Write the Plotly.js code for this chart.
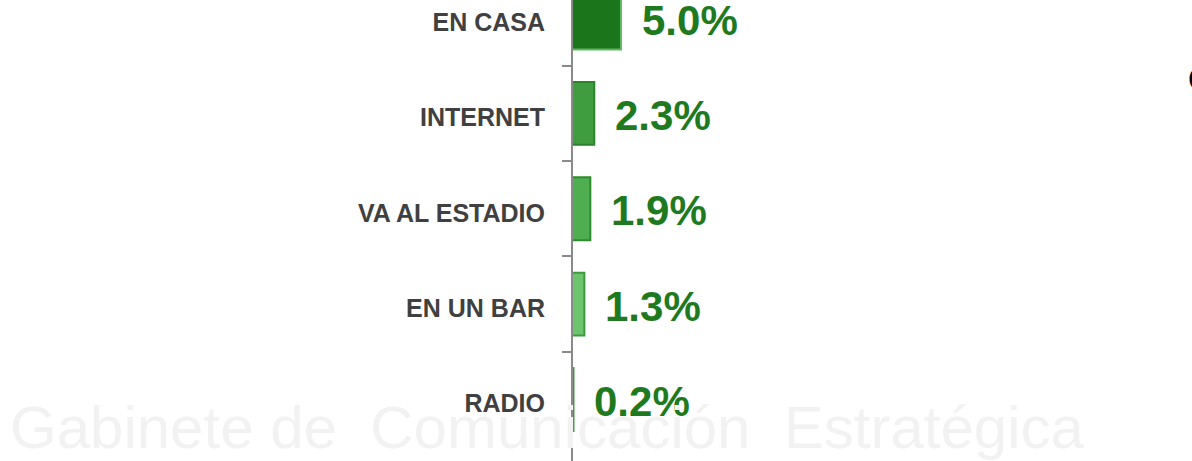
<!DOCTYPE html>
<html>
<head>
<meta charset="utf-8">
<script src="https://cdn.plot.ly/plotly-3.0.1.min.js"></script>
<style>html,body{margin:0;padding:0;background:#fff;}#chart{width:1192px;height:461px;}</style>
</head>
<body>
<div id="chart"></div>
<script>
// Data
var categories = ["EN CASA", "INTERNET", "VA AL ESTADIO", "EN UN BAR", "RADIO"];
var values = [5.0, 2.3, 1.9, 1.3, 0.2];
var valueLabels = ["5.0%", "2.3%", "1.9%", "1.3%", "0.2%"];

// Styles
var barFill = ["#1b761b", "#3f9d3f", "#4fae4f", "#6cc46c", "#6cc46c"];
var barLine = ["#62b862", "#2b842b", "#2f8a2f", "#3f9a3f", "#3f9a3f"];
var labelFont = "Liberation Sans, Arial, sans-serif";

var trace = {
  type: "bar",
  orientation: "h",
  y: categories,
  x: values,
  width: 0.66,
  marker: {color: barFill, line: {color: barLine, width: 2}},
  hoverinfo: "none"
};

var annotations = categories.map(function (c, i) {
  return {
    x: values[i], y: c, xref: "x", yref: "y",
    text: valueLabels[i], showarrow: false,
    xanchor: "left", yanchor: "middle", xshift: 19, yshift: -2,
    font: {family: labelFont, size: 42, color: "#1f7a1f", weight: "bold"}
  };
});

// faint watermark text
annotations.push({
  xref: "paper", yref: "paper", x: -573/619 + 8/619, y: -0.005,
  xanchor: "left", yanchor: "bottom", showarrow: false,
  text: "Gabinete de  Comunicación  Estratégica",
  font: {family: "Liberation Sans, Arial, sans-serif", size: 60, color: "#f2f2f2"}
});
annotations.push({
  xref: "paper", yref: "paper", x: 1.0 - 6/619, y: 1 - 54/461,
  xanchor: "left", yanchor: "top", showarrow: false,
  text: "c",
  font: {family: "Liberation Sans, Arial, sans-serif", size: 36, color: "#000"}
});

var layout = {
  width: 1192, height: 461,
  margin: {l: 573, r: 0, t: 0, b: 0, pad: 0},
  paper_bgcolor: "rgba(0,0,0,0)",
  plot_bgcolor: "rgba(0,0,0,0)",
  showlegend: false,
  xaxis: {range: [0.15, 62.7], visible: false, fixedrange: true},
  yaxis: {
    type: "category",
    categoryorder: "array", categoryarray: categories,
    range: [4.645, -0.189], autorange: false,
    showline: true, linecolor: "#8a8a8a", linewidth: 2,
    ticks: "outside", tickson: "boundaries", ticklen: 9, tickwidth: 2, tickcolor: "#8a8a8a",
    ticklabelstandoff: 21, ticklabelshift: -4,
    showgrid: false, zeroline: false,
    tickfont: {family: labelFont, size: 25, color: "#404040", weight: "bold"}
  },
  annotations: annotations
};

Plotly.newPlot("chart", [trace], layout, {displayModeBar: false, staticPlot: true});
</script>
</body>
</html>
